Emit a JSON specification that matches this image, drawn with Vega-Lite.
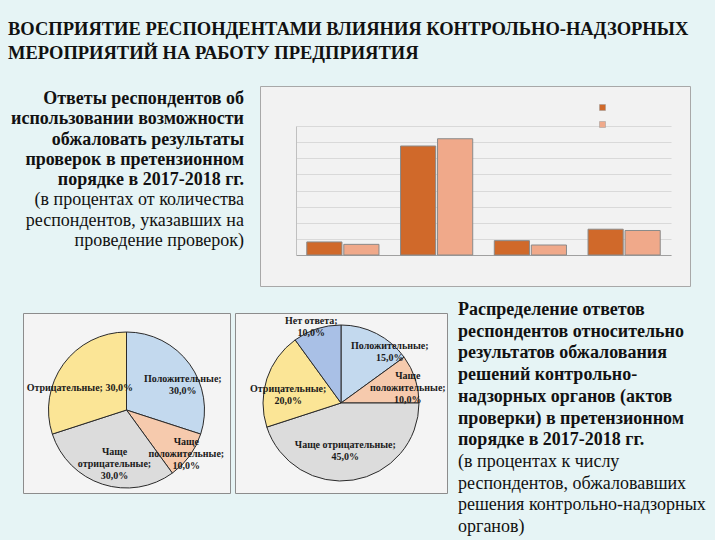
{
  "$schema": "https://vega.github.io/schema/vega-lite/v6.json",
  "background": "#e6f4f5",
  "padding": {"left": 8, "top": 20, "right": 0, "bottom": 4},
  "config": {"font": "Liberation Serif", "view": {"stroke": null}},
  "title": {
    "text": ["ВОСПРИЯТИЕ РЕСПОНДЕНТАМИ ВЛИЯНИЯ КОНТРОЛЬНО-НАДЗОРНЫХ", "МЕРОПРИЯТИЙ НА РАБОТУ ПРЕДПРИЯТИЯ"],
    "anchor": "start",
    "font": "Liberation Serif",
    "fontSize": 18.5,
    "fontWeight": "bold",
    "lineHeight": 24,
    "color": "#111111",
    "offset": 23
  },
  "spacing": 14,
  "resolve": {"scale": {"color": "independent", "x": "independent", "y": "independent"}, "legend": {"color": "independent"}},
  "vconcat": [
    {
      "hconcat": [
        {
          "width": 236,
          "height": 200,
          "data": {"values": [
            {"i": 0, "b": 1, "t": "Ответы респондентов об"},
            {"i": 1, "b": 1, "t": "использовании возможности"},
            {"i": 2, "b": 1, "t": "обжаловать результаты"},
            {"i": 3, "b": 1, "t": "проверок в претензионном"},
            {"i": 4, "b": 1, "t": "порядке в 2017-2018  гг."},
            {"i": 5, "b": 0, "t": "(в процентах от количества"},
            {"i": 6, "b": 0, "t": "респондентов, указавших на"},
            {"i": 7, "b": 0, "t": "проведение проверок)"}
          ]},
          "encoding": {
            "y": {"field": "i", "type": "quantitative", "scale": {"domain": [0, 7], "range": [13, 155]}, "axis": null},
            "x": {"datum": 1, "type": "quantitative", "scale": {"domain": [0, 1]}, "axis": null},
            "text": {"field": "t"}
          },
          "layer": [
            {"transform": [{"filter": "datum.b == 1"}], "mark": {"type": "text", "align": "right", "baseline": "middle", "fontSize": 18, "fontWeight": "bold", "color": "#111111"}},
            {"transform": [{"filter": "datum.b == 0"}], "mark": {"type": "text", "align": "right", "baseline": "middle", "fontSize": 18, "color": "#111111"}}
          ]
        },
        {
          "width": 430,
          "height": 200,
          "view": {"fill": "#f2f2f2", "stroke": "#a8a8a8", "strokeWidth": 1},
          "data": {"values": [
            {"cat": "A", "year": "2017", "v": 8.1},
            {"cat": "A", "year": "2018", "v": 6.6},
            {"cat": "B", "year": "2017", "v": 67.6},
            {"cat": "B", "year": "2018", "v": 72.1},
            {"cat": "C", "year": "2017", "v": 8.9},
            {"cat": "C", "year": "2018", "v": 6.2},
            {"cat": "D", "year": "2017", "v": 16.0},
            {"cat": "D", "year": "2018", "v": 15.2}
          ]},
          "mark": {"type": "bar", "stroke": "#8a8a8a", "strokeWidth": 1},
          "encoding": {
            "x": {"field": "cat", "type": "nominal", "scale": {"range": [36, 411], "paddingInner": 0.23, "paddingOuter": 0.115},
                  "axis": {"title": null, "labels": false, "ticks": false, "domain": true, "domainColor": "#a0a0a0", "offset": -31, "grid": false}},
            "xOffset": {"field": "year", "type": "nominal", "scale": {"paddingInner": 0.05}},
            "y": {"field": "v", "type": "quantitative", "scale": {"domain": [0, 80], "range": [169, 40], "nice": false},
                  "axis": {"title": null, "labels": false, "ticks": false, "domain": true, "domainColor": "#c0c0c0", "offset": -36, "grid": true, "gridColor": "#d9d9d9", "values": [0, 10, 20, 30, 40, 50, 60, 70, 80]}},
            "color": {"field": "year", "type": "nominal", "scale": {"domain": ["2017", "2018"], "range": ["#d0692a", "#f0a98a"]},
                      "legend": {"title": null, "orient": "none", "legendX": 337, "legendY": 16, "symbolType": "square", "symbolSize": 36, "symbolStrokeColor": "#999999", "symbolStrokeWidth": 0.5, "labelOpacity": 0, "labelFontSize": 11, "rowPadding": 5}}
          }
        }
      ],
      "spacing": 16,
      "bounds": "flush",
      "resolve": {"scale": {"color": "independent", "x": "independent", "y": "independent"}, "legend": {"color": "independent"}}
    },
    {
      "hconcat": [
        {
          "width": 10,
          "height": 10,
          "data": {"values": [{"t": ""}]},
          "mark": {"type": "text"},
          "encoding": {"text": {"field": "t"}}
        },
        {
          "width": 207,
          "height": 180,
          "view": {"fill": "#f4f4f4", "stroke": "#8c8c8c", "strokeWidth": 1},
          "data": {"values": [
            {"cat": "Положительные", "v": 30, "o": 1, "label": "Положительные;\n30,0%"},
            {"cat": "Чаще положительные", "v": 10, "o": 2, "label": "Чаще\nположительные;\n10,0%"},
            {"cat": "Чаще отрицательные", "v": 30, "o": 3, "label": "Чаще\nотрицательные;\n30,0%"},
            {"cat": "Отрицательные", "v": 30, "o": 4, "label": "Отрицательные; 30,0%"}
          ]},
          "encoding": {
            "theta": {"field": "v", "type": "quantitative", "stack": true},
            "order": {"field": "o", "type": "quantitative"},
            "y": {"value": 97}
          },
          "layer": [
            {"mark": {"type": "arc", "outerRadius": 78, "stroke": "#2a2a2a", "strokeWidth": 1},
             "encoding": {"color": {"field": "cat", "type": "nominal", "legend": null,
                      "scale": {"domain": ["Положительные", "Чаще положительные", "Чаще отрицательные", "Отрицательные", "Нет ответа"], "range": ["#c3d9ee", "#f6caad", "#dcdcdc", "#fbe596", "#a9c0e6"]}}}},
            {"mark": {"type": "text", "radius": 61, "dx": 7, "dy": 5, "fontSize": 10, "fontWeight": "bold", "lineBreak": "\n", "color": "#1a1a1a"},
             "encoding": {"text": {"condition": {"test": "datum.o == 1", "field": "label"}, "value": ""}}},
            {"mark": {"type": "text", "radius": 74, "dy": -11, "fontSize": 10, "fontWeight": "bold", "lineBreak": "\n", "color": "#1a1a1a"},
             "encoding": {"text": {"condition": {"test": "datum.o == 2", "field": "label"}, "value": ""}}},
            {"mark": {"type": "text", "radius": 55, "dx": 5, "dy": -10, "fontSize": 10, "fontWeight": "bold", "lineBreak": "\n", "color": "#1a1a1a"},
             "encoding": {"text": {"condition": {"test": "datum.o == 3", "field": "label"}, "value": ""}}},
            {"mark": {"type": "text", "radius": 54, "dx": -3, "dy": 10, "fontSize": 10, "fontWeight": "bold", "lineBreak": "\n", "color": "#1a1a1a"},
             "encoding": {"text": {"condition": {"test": "datum.o == 4", "field": "label"}, "value": ""}}}
          ]
        },
        {
          "width": 212,
          "height": 180,
          "view": {"fill": "#f4f4f4", "stroke": "#8c8c8c", "strokeWidth": 1},
          "data": {"values": [
            {"cat": "Положительные", "v": 15, "o": 1, "label": "Положительные;\n15,0%"},
            {"cat": "Чаще положительные", "v": 10, "o": 2, "label": "Чаще\nположительные;\n10,0%"},
            {"cat": "Чаще отрицательные", "v": 45, "o": 3, "label": "Чаще отрицательные;\n45,0%"},
            {"cat": "Отрицательные", "v": 20, "o": 4, "label": "Отрицательные;\n20,0%"},
            {"cat": "Нет ответа", "v": 10, "o": 5, "label": "Нет ответа;\n10,0%"}
          ]},
          "encoding": {
            "theta": {"field": "v", "type": "quantitative", "stack": true},
            "order": {"field": "o", "type": "quantitative"}
          },
          "layer": [
            {"mark": {"type": "arc", "outerRadius": 78, "stroke": "#2a2a2a", "strokeWidth": 1},
             "encoding": {"color": {"field": "cat", "type": "nominal", "legend": null,
                      "scale": {"domain": ["Положительные", "Чаще положительные", "Чаще отрицательные", "Отрицательные", "Нет ответа"], "range": ["#c3d9ee", "#f6caad", "#dcdcdc", "#fbe596", "#a9c0e6"]}}}},
            {"mark": {"type": "text", "radius": 70, "dx": 17, "dy": 5, "fontSize": 10, "fontWeight": "bold", "lineBreak": "\n", "color": "#1a1a1a"},
             "encoding": {"text": {"condition": {"test": "datum.o == 1", "field": "label"}, "value": ""}}},
            {"mark": {"type": "text", "radius": 64, "dx": 6, "dy": -7, "fontSize": 10, "fontWeight": "bold", "lineBreak": "\n", "color": "#1a1a1a"},
             "encoding": {"text": {"condition": {"test": "datum.o == 2", "field": "label"}, "value": ""}}},
            {"mark": {"type": "text", "radius": 47, "dx": -3, "dy": -4, "fontSize": 10, "fontWeight": "bold", "lineBreak": "\n", "color": "#1a1a1a"},
             "encoding": {"text": {"condition": {"test": "datum.o == 3", "field": "label"}, "value": ""}}},
            {"mark": {"type": "text", "radius": 64, "dx": 8, "dy": 6, "fontSize": 10, "fontWeight": "bold", "lineBreak": "\n", "color": "#1a1a1a"},
             "encoding": {"text": {"condition": {"test": "datum.o == 4", "field": "label"}, "value": ""}}},
            {"mark": {"type": "text", "radius": 80, "dx": -5, "dy": -6, "fontSize": 10, "fontWeight": "bold", "lineBreak": "\n", "color": "#1a1a1a"},
             "encoding": {"text": {"condition": {"test": "datum.o == 5", "field": "label"}, "value": ""}}}
          ]
        },
        {
          "width": 263,
          "height": 180,
          "data": {"values": [
            {"i": 0, "b": 1, "t": "Распределение ответов"},
            {"i": 1, "b": 1, "t": "респондентов относительно"},
            {"i": 2, "b": 1, "t": "результатов обжалования"},
            {"i": 3, "b": 1, "t": "решений контрольно-"},
            {"i": 4, "b": 1, "t": "надзорных органов (актов"},
            {"i": 5, "b": 1, "t": "проверки) в претензионном"},
            {"i": 6, "b": 1, "t": "порядке в 2017-2018 гг."},
            {"i": 7, "b": 0, "t": "(в процентах к числу"},
            {"i": 8, "b": 0, "t": "респондентов, обжаловавших"},
            {"i": 9, "b": 0, "t": "решения контрольно-надзорных"},
            {"i": 10, "b": 0, "t": "органов)"}
          ]},
          "encoding": {
            "y": {"field": "i", "type": "quantitative", "scale": {"domain": [0, 10], "range": [-3, 214]}, "axis": null},
            "x": {"datum": 0, "type": "quantitative", "scale": {"domain": [0, 1]}, "axis": null},
            "text": {"field": "t"}
          },
          "layer": [
            {"transform": [{"filter": "datum.b == 1"}], "mark": {"type": "text", "align": "left", "dx": 6, "baseline": "middle", "fontSize": 18, "fontWeight": "bold", "color": "#111111"}},
            {"transform": [{"filter": "datum.b == 0"}], "mark": {"type": "text", "align": "left", "dx": 6, "baseline": "middle", "fontSize": 18, "color": "#111111"}}
          ]
        }
      ],
      "spacing": 5,
      "bounds": "flush",
      "resolve": {"scale": {"color": "independent", "x": "independent", "y": "independent", "theta": "independent"}, "legend": {"color": "independent"}}
    }
  ]
}
